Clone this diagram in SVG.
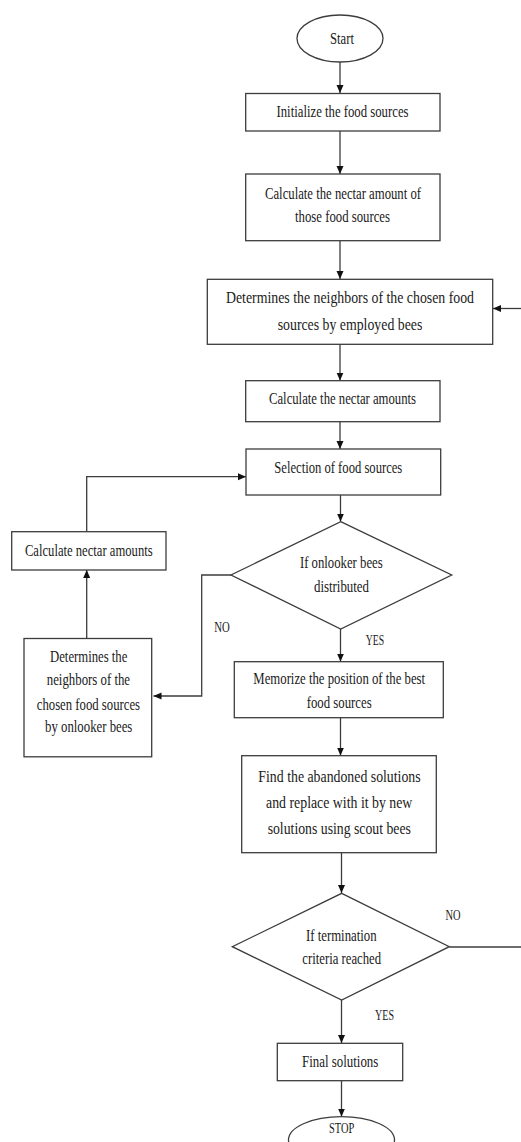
<svg xmlns="http://www.w3.org/2000/svg" width="521" height="1142" viewBox="0 0 521 1142">
<style>
.n{fill:#fff;stroke:#3c3c3c;stroke-width:1.3}
.t{font-family:"Liberation Serif","Times New Roman",serif;font-size:17px;fill:#1a1a1a;text-anchor:middle}
.s{font-family:"Liberation Serif","Times New Roman",serif;font-size:15px;fill:#1a1a1a;text-anchor:middle}
.c{fill:none;stroke:#3c3c3c;stroke-width:1.3}
</style>
<defs>
<marker id="ah" markerUnits="userSpaceOnUse" markerWidth="9" markerHeight="8" refX="8" refY="3.5" orient="auto">
<path d="M0,0 L8,3.5 L0,7 z" fill="#111"/>
</marker>
</defs>
<rect width="521" height="1142" fill="#fff"/>
<g id="connectors">
<line class="c" x1="340" y1="62" x2="340" y2="93" marker-end="url(#ah)"/>
<line class="c" x1="340" y1="131" x2="340" y2="174" marker-end="url(#ah)"/>
<line class="c" x1="340" y1="241" x2="340" y2="279" marker-end="url(#ah)"/>
<line class="c" x1="521" y1="308.5" x2="493" y2="308.5" marker-end="url(#ah)"/>
<line class="c" x1="340" y1="344" x2="340" y2="380.5" marker-end="url(#ah)"/>
<line class="c" x1="340" y1="422" x2="340" y2="449" marker-end="url(#ah)"/>
<line class="c" x1="340.5" y1="495" x2="340.5" y2="521.5" marker-end="url(#ah)"/>
<line class="c" x1="340.5" y1="629" x2="340.5" y2="661.5" marker-end="url(#ah)"/>
<polyline class="c" points="231,575 201.7,575 201.7,696 153.5,696" marker-end="url(#ah)"/>
<line class="c" x1="86.7" y1="638.5" x2="86.7" y2="570" marker-end="url(#ah)"/>
<polyline class="c" points="86.7,531.5 86.7,476.7 246,476.7" marker-end="url(#ah)"/>
<line class="c" x1="340.5" y1="718" x2="340.5" y2="755.5" marker-end="url(#ah)"/>
<line class="c" x1="341.5" y1="853" x2="341.5" y2="893" marker-end="url(#ah)"/>
<line class="c" x1="449.5" y1="947" x2="521" y2="947"/>
<line class="c" x1="341.5" y1="1000" x2="341.5" y2="1043" marker-end="url(#ah)"/>
<line class="c" x1="341.5" y1="1081" x2="341.5" y2="1116.5" marker-end="url(#ah)"/>
<text class="s" x="222" y="631.5" textLength="15.5" lengthAdjust="spacingAndGlyphs">NO</text>
<text class="s" x="375" y="645" textLength="18.5" lengthAdjust="spacingAndGlyphs">YES</text>
<text class="s" x="453" y="920" textLength="15" lengthAdjust="spacingAndGlyphs">NO</text>
<text class="s" x="384.5" y="1020" textLength="19" lengthAdjust="spacingAndGlyphs">YES</text>
</g>
<g id="start">
<ellipse class="n" cx="340" cy="38.5" rx="43" ry="23.5"/>
<text class="t" x="342" y="44" textLength="24" lengthAdjust="spacingAndGlyphs">Start</text>
</g>
<g id="init">
<rect class="n" x="245.7" y="93.5" width="194.3" height="37.5"/>
<text class="t" x="342.5" y="116.7" textLength="132" lengthAdjust="spacingAndGlyphs">Initialize the food sources</text>
</g>
<g id="calc1">
<rect class="n" x="245.7" y="174" width="194.3" height="66.7"/>
<text class="t" x="343" y="198.5" textLength="156" lengthAdjust="spacingAndGlyphs">Calculate the nectar amount of</text>
<text class="t" x="342.5" y="222.3" textLength="95" lengthAdjust="spacingAndGlyphs">those food sources</text>
</g>
<g id="employed">
<rect class="n" x="207.3" y="279.3" width="285.4" height="65"/>
<text class="t" transform="translate(350,303.3) scale(0.85,1)" x="0" y="0" textLength="291.8" lengthAdjust="spacingAndGlyphs">Determines the neighbors of the chosen food</text>
<text class="t" x="350" y="330" textLength="144.6" lengthAdjust="spacingAndGlyphs">sources by employed bees</text>
</g>
<g id="calc2">
<rect class="n" x="245.7" y="380.7" width="194.3" height="41"/>
<text class="t" x="342.5" y="404" textLength="147" lengthAdjust="spacingAndGlyphs">Calculate the nectar amounts</text>
</g>
<g id="selection">
<rect class="n" x="246" y="449" width="194.7" height="46"/>
<text class="t" x="338.3" y="473.3" textLength="128" lengthAdjust="spacingAndGlyphs">Selection of food sources</text>
</g>
<g id="onlooker-decision">
<polygon class="n" points="340.7,521.7 451.7,575 340.7,629 231,575"/>
<text class="t" x="341.3" y="567.7" textLength="82.7" lengthAdjust="spacingAndGlyphs">If onlooker bees</text>
<text class="t" x="341.5" y="592.3" textLength="55" lengthAdjust="spacingAndGlyphs">distributed</text>
</g>
<g id="calc3">
<rect class="n" x="11.7" y="531.7" width="154.3" height="38.3"/>
<text class="t" x="88.8" y="555.7" textLength="127.7" lengthAdjust="spacingAndGlyphs">Calculate nectar amounts</text>
</g>
<g id="onlooker">
<rect class="n" x="24" y="638.5" width="127.7" height="118.3"/>
<text class="t" x="88.7" y="661.7" textLength="77.3" lengthAdjust="spacingAndGlyphs">Determines the</text>
<text class="t" x="88.4" y="685.2" textLength="83.3" lengthAdjust="spacingAndGlyphs">neighbors of the</text>
<text class="t" x="88.4" y="709.5" textLength="103.3" lengthAdjust="spacingAndGlyphs">chosen food sources</text>
<text class="t" x="88.7" y="732" textLength="87.3" lengthAdjust="spacingAndGlyphs">by onlooker bees</text>
</g>
<g id="memorize">
<rect class="n" x="234.3" y="661.7" width="209" height="56"/>
<text class="t" x="339.2" y="684" textLength="171.7" lengthAdjust="spacingAndGlyphs">Memorize the position of the best</text>
<text class="t" x="339.2" y="708.3" textLength="65" lengthAdjust="spacingAndGlyphs">food sources</text>
</g>
<g id="scout">
<rect class="n" x="241.7" y="755.7" width="194.6" height="97"/>
<text class="t" x="339.5" y="781.7" textLength="162.3" lengthAdjust="spacingAndGlyphs">Find the abandoned solutions</text>
<text class="t" x="339.2" y="808.3" textLength="146.3" lengthAdjust="spacingAndGlyphs">and replace with it by new</text>
<text class="t" x="339.3" y="834.3" textLength="143.3" lengthAdjust="spacingAndGlyphs">solutions using scout bees</text>
</g>
<g id="termination-decision">
<polygon class="n" points="341.7,893.3 449.3,946.7 341.7,1000 232.3,946.7"/>
<text class="t" x="341.3" y="940.7" textLength="70.7" lengthAdjust="spacingAndGlyphs">If termination</text>
<text class="t" x="341.7" y="964.3" textLength="78.7" lengthAdjust="spacingAndGlyphs">criteria reached</text>
</g>
<g id="final">
<rect class="n" x="277.3" y="1043.3" width="125.4" height="37.4"/>
<text class="t" x="340.2" y="1067.3" textLength="76.3" lengthAdjust="spacingAndGlyphs">Final solutions</text>
</g>
<g id="stop">
<ellipse class="n" cx="341.5" cy="1140" rx="53" ry="23.3"/>
<text class="s" x="341.7" y="1132.7" textLength="25.3" lengthAdjust="spacingAndGlyphs">STOP</text>
</g>
</svg>
